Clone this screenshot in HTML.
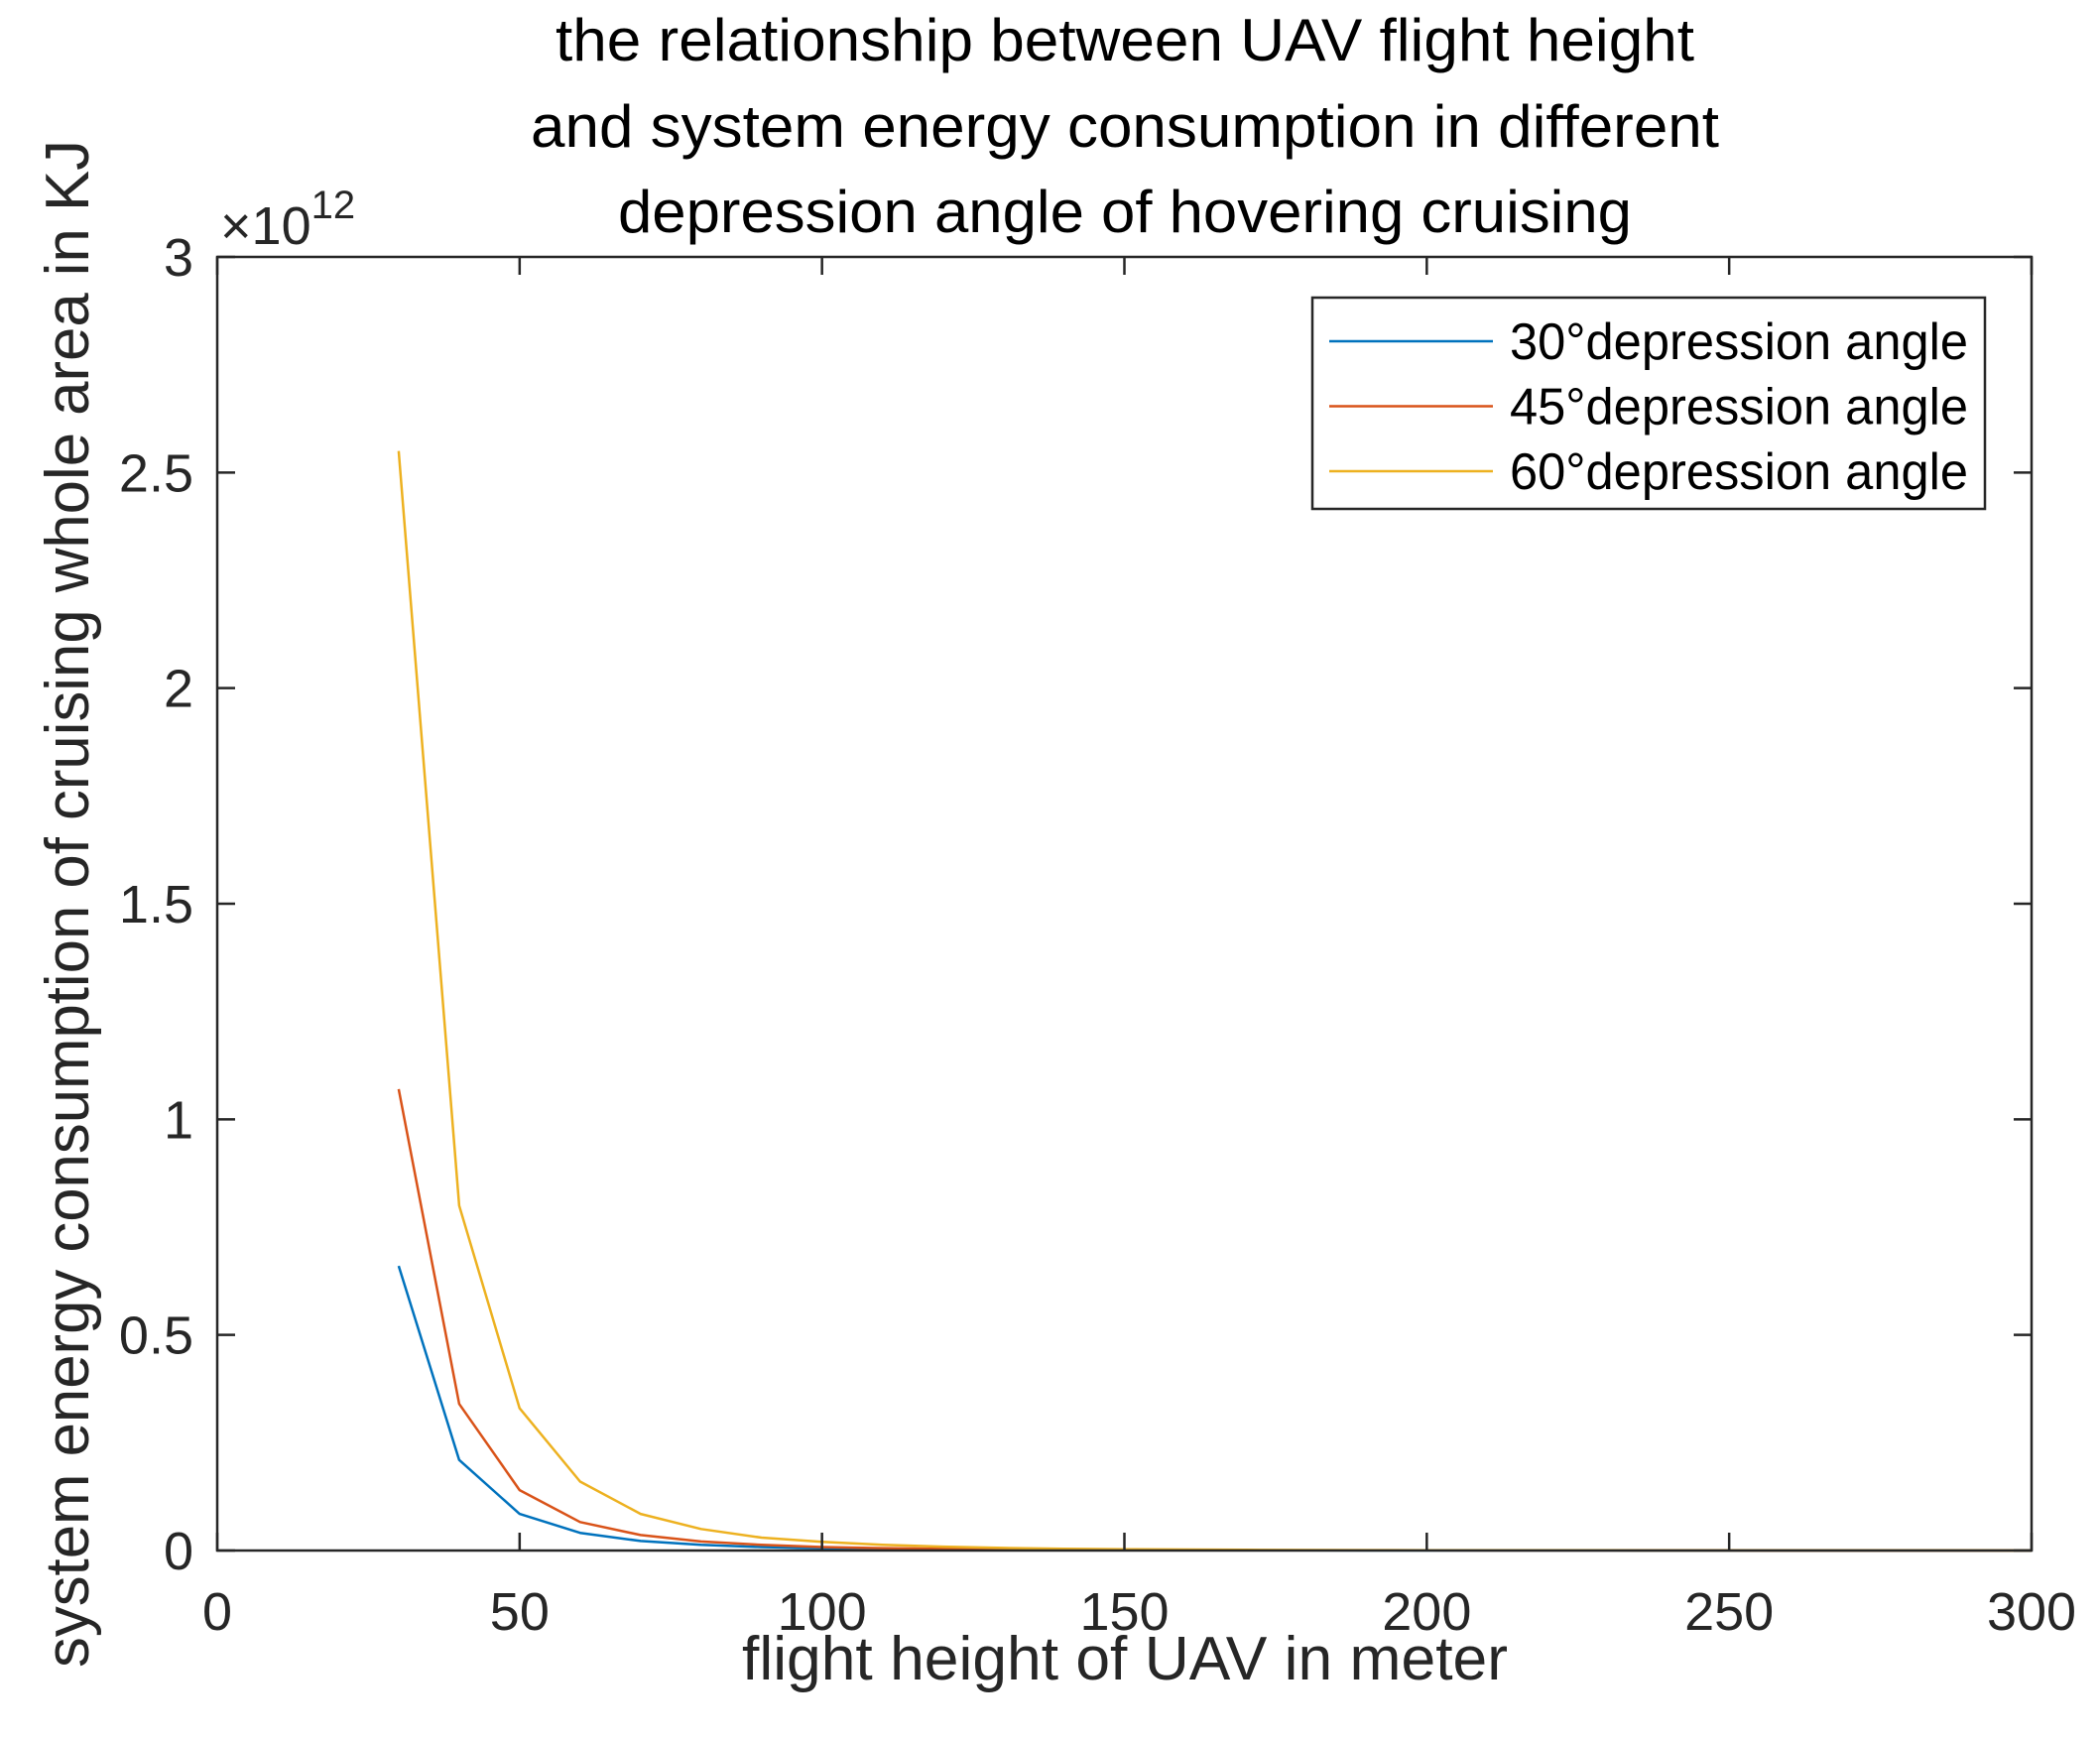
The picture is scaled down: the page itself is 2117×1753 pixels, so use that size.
<!DOCTYPE html>
<html><head><meta charset="utf-8"><style>
html,body{margin:0;padding:0;background:#fff;}
svg{display:block;font-family:"Liberation Sans",Arial,sans-serif;}
</style></head><body>
<svg id="chart" width="2117" height="1753" viewBox="0 0 2117 1753" xmlns="http://www.w3.org/2000/svg">
<rect x="0" y="0" width="2117" height="1753" fill="#fff"/>
<g id="title" fill="#000" font-size="60" text-anchor="middle">
<text x="1134" y="61" textLength="1148" lengthAdjust="spacingAndGlyphs">the relationship between UAV flight height</text>
<text x="1134" y="148" textLength="1198" lengthAdjust="spacingAndGlyphs">and system energy consumption in different</text>
<text x="1134" y="234" textLength="1022" lengthAdjust="spacingAndGlyphs">depression angle of hovering cruising</text>
</g>
<rect x="219" y="259" width="1829" height="1304" fill="#fff"/>
<g id="marks"></g>
<g id="axes"></g>
<text x="222" y="246" font-size="54" fill="#262626">×10<tspan font-size="40" dy="-26">12</tspan></text>
<text x="1134" y="1693" font-size="62" text-anchor="middle" fill="#262626" textLength="772" lengthAdjust="spacingAndGlyphs">flight height of UAV in meter</text>
<text transform="translate(89,911) rotate(-90)" font-size="62" text-anchor="middle" fill="#262626" textLength="1540" lengthAdjust="spacingAndGlyphs">system energy consumption of cruising whole area in KJ</text>
<g id="legend"></g>
</svg>
<script>
const xValues = [30,40,50,60,70,80,90,100,110,120,130,140,150,160,170,180,190,200,210,220,230,240,250,260,270,280,290,300];
const series30 = [0.66,0.21,0.085,0.041,0.022,0.013,0.008,0.005,0.0034,0.0024,0.0017,0.0012,0.0009,0.0007,0.0005,0.0004,0.0003,0.00025,0.0002,0.00016,0.00013,0.0001,0.00008,0.00007,0.00006,0.00005,0.00004,0.00003];
const series45 = [1.07,0.34,0.14,0.066,0.036,0.021,0.013,0.008,0.0055,0.004,0.0028,0.002,0.0015,0.0011,0.0008,0.0006,0.0005,0.0004,0.0003,0.00025,0.0002,0.00016,0.00013,0.0001,0.00009,0.00008,0.00007,0.00006];
const series60 = [2.55,0.80,0.33,0.16,0.085,0.05,0.03,0.02,0.013,0.009,0.006,0.004,0.003,0.0022,0.0016,0.0012,0.001,0.0008,0.0006,0.0005,0.0004,0.0003,0.00025,0.0002,0.00017,0.00014,0.00012,0.0001];
const seriesNames = ["30°depression angle","45°depression angle","60°depression angle"];
const seriesColors = ["#0072BD","#D95319","#EDB120"];
const xTicks = [0,50,100,150,200,250,300];
const yTicks = [0,0.5,1,1.5,2,2.5,3];
const yTickLabels = ["0","0.5","1","1.5","2","2.5","3"];

const NS = "http://www.w3.org/2000/svg";
const L=219,R=2048,T=259,B=1563;
const xs = v => L + (v-0)/(300-0)*(R-L);
const ys = v => B - (v-0)/(3-0)*(B-T);
function mk(tag, attrs, parent){const e=document.createElementNS(NS,tag);for(const k in attrs)e.setAttribute(k,attrs[k]);parent.appendChild(e);return e;}

const marks=document.getElementById('marks');
const allSeries=[series30,series45,series60];
const lineNames=['line-30-degree','line-45-degree','line-60-degree'];
allSeries.forEach((s,i)=>{
  const d=s.map((v,j)=>(j?'L':'M')+xs(xValues[j]).toFixed(1)+','+ys(v).toFixed(1)).join(' ');
  const p=mk('path',{d:d,fill:'none',stroke:seriesColors[i],'stroke-width':2.5,'stroke-linejoin':'round'},marks);
  
  
});

const axes=document.getElementById('axes');
const box=mk('rect',{x:L,y:T,width:R-L,height:B-T,fill:'none',stroke:'#262626','stroke-width':2.5},axes);


xTicks.forEach(v=>{
  const x=xs(v);
  mk('line',{x1:x,y1:B,x2:x,y2:B-18,stroke:'#262626','stroke-width':2.5},axes);
  mk('line',{x1:x,y1:T,x2:x,y2:T+18,stroke:'#262626','stroke-width':2.5},axes);
  const t=mk('text',{x:x,y:1643,'font-size':54,'text-anchor':'middle',fill:'#262626'},axes);
  t.textContent=String(v);
  
  
});
yTicks.forEach((v,i)=>{
  const y=ys(v);
  mk('line',{x1:L,y1:y,x2:L+18,y2:y,stroke:'#262626','stroke-width':2.5},axes);
  mk('line',{x1:R,y1:y,x2:R-18,y2:y,stroke:'#262626','stroke-width':2.5},axes);
  const t=mk('text',{x:195,y:y+19,'font-size':54,'text-anchor':'end',fill:'#262626'},axes);
  t.textContent=yTickLabels[i];
  
  
});

const lg=document.getElementById('legend');
mk('rect',{x:1323,y:300,width:678,height:213,fill:'#fff',stroke:'#262626','stroke-width':2.5},lg);
const entryNames=['legend-entry-30','legend-entry-45','legend-entry-60'];
seriesNames.forEach((n,i)=>{
  const y=344+i*65.5;
  const g=mk('g',{},lg);
  
  
  mk('line',{x1:1340,y1:y,x2:1505,y2:y,stroke:seriesColors[i],'stroke-width':2.5},g);
  const t=mk('text',{x:1522,y:y+18,'font-size':52,fill:'#000',textLength:462,lengthAdjust:'spacingAndGlyphs'},g);
  t.textContent=n;
});
</script>
</body></html>
